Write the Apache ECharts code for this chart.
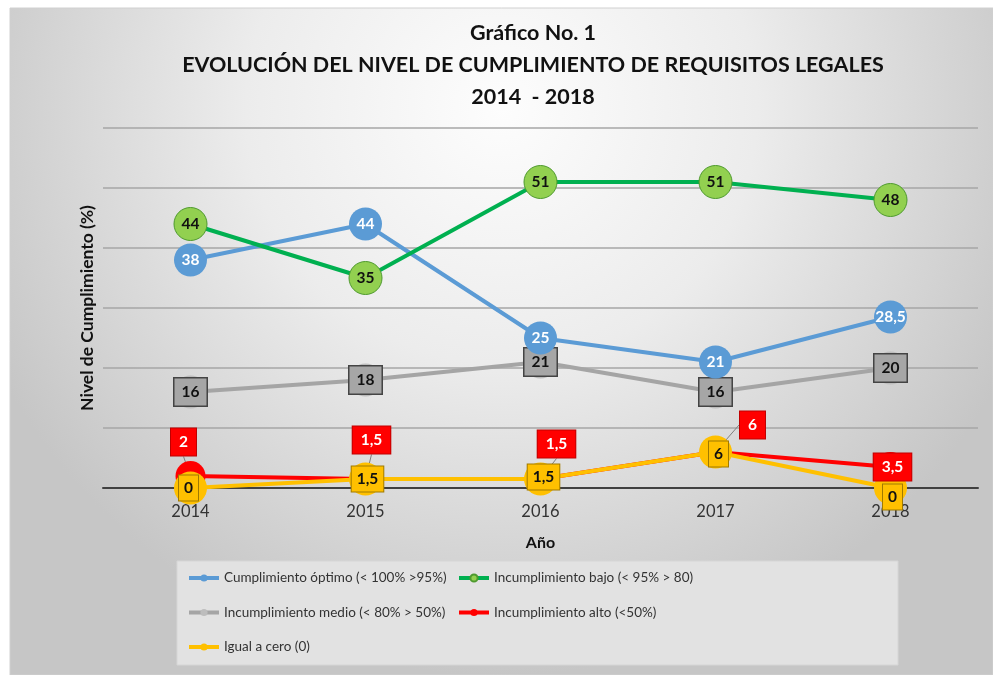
<!DOCTYPE html>
<html>
<head>
<meta charset="utf-8">
<script src="https://cdn.jsdelivr.net/npm/echarts@6/dist/echarts.min.js"></script>
<style>
  html, body { margin: 0; padding: 0; background: #fff; }
  #chart { width: 993px; height: 675px; }
</style>
</head>
<body>
<div id="chart"></div>
<script>
// datos
const years = ['2014', '2015', '2016', '2017', '2018'];
const optimo = [38, 44, 25, 21, 28.5];
const bajo = [44, 35, 51, 51, 48];
const medio = [16, 18, 21, 16, 20];
const alto = [2, 1.5, 1.5, 6, 3.5];
const cero = [0, 1.5, 1.5, 6, 0];
const names = [
  'Cumplimiento óptimo (< 100% >95%)',
  'Incumplimiento bajo (< 95% > 80)',
  'Incumplimiento medio (< 80% > 50%)',
  'Incumplimiento alto (<50%)',
  'Igual a cero (0)'
];

const FONT = 'Lato';
// formato con coma decimal
const fmt = p => String(p.value).replace('.', ',');

// desplazamiento de las etiquetas rojas (callouts)
const redShift = [[-7, -34], [6, -39], [16, -35], [37, -27], [2, 0]];
const yellowShift = [[-2, 0], [2, 0], [3, -2], [3, 2], [2, 9]];

const chart = echarts.init(document.getElementById('chart'));

const legendText = { fontFamily: FONT, fontSize: 13.5, color: '#333' };

const option = {
  backgroundColor: '#fff',
  textStyle: { fontFamily: FONT },
  graphic: [
    {
      type: 'rect', z: -10,
      shape: { x: 10, y: 8, width: 983, height: 667 },
      style: {
        fill: new echarts.graphic.RadialGradient(0.5, 0.15, 0.85, [
          { offset: 0, color: '#fdfdfd' },
          { offset: 0.45, color: '#ececec' },
          { offset: 1, color: '#c6c6c6' }
        ]),
        stroke: '#d0d0d0', lineWidth: 1
      }
    },
    {
      type: 'rect', z: -9,
      shape: { x: 177, y: 561, width: 721, height: 104 },
      style: { fill: '#e2e2e2', stroke: '#d6d6d6', lineWidth: 1 }
    }
  ],
  title: {
    text: 'Gráfico No. 1\nEVOLUCIÓN DEL NIVEL DE CUMPLIMIENTO DE REQUISITOS LEGALES\n2014  - 2018',
    left: 528,
    top: 12,
    textAlign: 'center',
    textStyle: { fontFamily: FONT, fontSize: 21.5, fontWeight: 'bold', color: '#111', lineHeight: 32 }
  },
  grid: { left: 103, right: 15, top: 128, bottom: 187 },
  legend: [
    {
      data: [names[0], names[2], names[4]],
      orient: 'vertical', left: 187, top: 571, padding: 0,
      itemWidth: 30, itemHeight: 9, itemGap: 20.5,
      lineStyle: { width: 4 },
      textStyle: legendText
    },
    {
      data: [names[1], names[3]],
      orient: 'vertical', left: 457, top: 571, padding: 0,
      itemWidth: 30, itemHeight: 9, itemGap: 20.5,
      lineStyle: { width: 4 },
      textStyle: legendText
    }
  ],
  xAxis: {
    type: 'category',
    data: years,
    boundaryGap: true,
    axisLine: { show: true, lineStyle: { color: '#404040', width: 2 } },
    axisTick: { show: false },
    axisLabel: { fontFamily: FONT, fontSize: 16.5, color: '#333', margin: 15 },
    name: 'Año',
    nameLocation: 'middle',
    nameGap: 47,
    nameTextStyle: { fontFamily: FONT, fontSize: 16, fontWeight: 'bold', color: '#111' }
  },
  yAxis: {
    type: 'value',
    min: 0, max: 60, interval: 10,
    axisLine: { show: false },
    axisTick: { show: false },
    axisLabel: { show: false },
    splitLine: { lineStyle: { color: '#a6a6a6', width: 1.5 } },
    name: 'Nivel de Cumplimiento (%)',
    nameLocation: 'middle',
    nameGap: 7,
    nameTextStyle: { fontFamily: FONT, fontSize: 17.5, fontWeight: 'bold', color: '#111' }
  },
  series: [
    {
      name: names[0], type: 'line', data: optimo, z: 3,
      symbol: 'circle', symbolSize: 33,
      lineStyle: { color: '#5b9bd5', width: 4 },
      itemStyle: { color: '#5b9bd5' },
      label: { show: true, position: 'inside', formatter: fmt, color: '#fff', fontWeight: 'bold', fontSize: 15.5, fontFamily: FONT }
    },
    {
      name: names[1], type: 'line', data: bajo, z: 3,
      symbol: 'circle', symbolSize: 33,
      lineStyle: { color: '#00b050', width: 4 },
      itemStyle: { color: '#92d050', borderColor: '#4e9a2e', borderWidth: 1 },
      label: { show: true, position: 'inside', formatter: fmt, color: '#111', fontWeight: 'bold', fontSize: 15.5, fontFamily: FONT }
    },
    {
      name: names[2], type: 'line', data: medio, z: 2,
      symbol: 'circle', symbolSize: 33,
      lineStyle: { color: '#a5a5a5', width: 4 },
      itemStyle: { color: '#bdbdbd' },
      label: {
        show: true, position: 'inside', formatter: fmt, color: '#111', fontWeight: 'bold', fontSize: 15.5, fontFamily: FONT,
        backgroundColor: '#a6a6a6', borderColor: '#444', borderWidth: 1.5, padding: [6, 7, 5, 7]
      }
    },
    {
      name: names[3], type: 'line', data: alto, z: 2,
      symbol: 'circle', symbolSize: 30,
      lineStyle: { color: '#ff0000', width: 4 },
      itemStyle: { color: '#ff0000' },
      label: {
        show: true, position: 'inside', formatter: fmt, color: '#fff', fontWeight: 'bold', fontSize: 15.5, fontFamily: FONT,
        backgroundColor: '#ff0000', borderColor: '#c00000', borderWidth: 1, padding: [6, 8, 5, 8]
      },
      labelLine: { show: true, lineStyle: { color: '#7f7f7f', width: 1 } },
      labelLayout: p => ({ dx: redShift[p.dataIndex][0], dy: redShift[p.dataIndex][1] })
    },
    {
      name: names[4], type: 'line', data: cero, z: 2,
      symbol: 'circle', symbolSize: 33,
      lineStyle: { color: '#ffc000', width: 4 },
      itemStyle: { color: '#ffc000' },
      label: {
        show: true, position: 'inside', formatter: fmt, color: '#111', fontWeight: 'bold', fontSize: 15.5, fontFamily: FONT,
        backgroundColor: '#ffc000', borderColor: '#a07a00', borderWidth: 1, padding: [5, 5, 4, 5]
      },
      labelLayout: p => ({ dx: yellowShift[p.dataIndex][0], dy: yellowShift[p.dataIndex][1] })
    }
  ]
};

chart.setOption(option);
</script>
</body>
</html>
